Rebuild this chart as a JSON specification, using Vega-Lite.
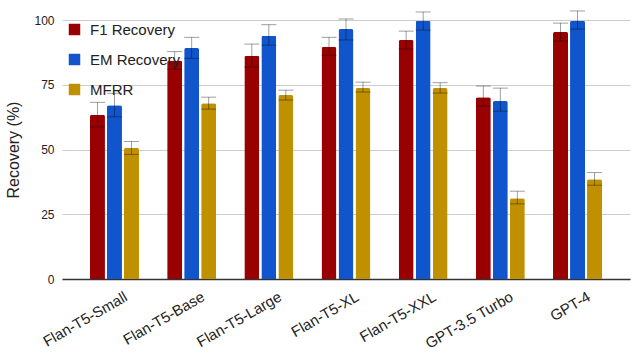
{
  "$schema": "https://vega.github.io/schema/vega-lite/v6.json",
  "autosize": {"type": "none"},
  "padding": {"left": 62, "top": 20, "right": 7, "bottom": 75},
  "width": 568,
  "height": 259,
  "background": "white",
  "config": {
    "view": {"stroke": null},
    "font": "Liberation Sans"
  },
  "data": {
    "values": [
      {"model": "Flan-T5-Small", "metric": "F1 Recovery", "value": 63.4, "lo": 58.7, "hi": 68.2},
      {"model": "Flan-T5-Small", "metric": "EM Recovery", "value": 67.1, "lo": 62.6, "hi": 71.7},
      {"model": "Flan-T5-Small", "metric": "MFRR", "value": 50.6, "lo": 48.1, "hi": 53.1},
      {"model": "Flan-T5-Base", "metric": "F1 Recovery", "value": 84.4, "lo": 81.0, "hi": 87.8},
      {"model": "Flan-T5-Base", "metric": "EM Recovery", "value": 89.2, "lo": 85.2, "hi": 93.3},
      {"model": "Flan-T5-Base", "metric": "MFRR", "value": 67.9, "lo": 65.6, "hi": 70.2},
      {"model": "Flan-T5-Large", "metric": "F1 Recovery", "value": 86.2, "lo": 81.8, "hi": 90.7},
      {"model": "Flan-T5-Large", "metric": "EM Recovery", "value": 93.9, "lo": 90.3, "hi": 98.2},
      {"model": "Flan-T5-Large", "metric": "MFRR", "value": 71.0, "lo": 69.1, "hi": 72.9},
      {"model": "Flan-T5-XL", "metric": "F1 Recovery", "value": 89.6, "lo": 86.4, "hi": 93.3},
      {"model": "Flan-T5-XL", "metric": "EM Recovery", "value": 96.5, "lo": 92.3, "hi": 100.4},
      {"model": "Flan-T5-XL", "metric": "MFRR", "value": 73.7, "lo": 72.2, "hi": 76.0},
      {"model": "Flan-T5-XXL", "metric": "F1 Recovery", "value": 92.3, "lo": 88.8, "hi": 95.7},
      {"model": "Flan-T5-XXL", "metric": "EM Recovery", "value": 99.7, "lo": 96.1, "hi": 103.1},
      {"model": "Flan-T5-XXL", "metric": "MFRR", "value": 73.7, "lo": 71.8, "hi": 75.8},
      {"model": "GPT-3.5 Turbo", "metric": "F1 Recovery", "value": 70.2, "lo": 66.8, "hi": 74.5},
      {"model": "GPT-3.5 Turbo", "metric": "EM Recovery", "value": 68.7, "lo": 64.8, "hi": 73.7},
      {"model": "GPT-3.5 Turbo", "metric": "MFRR", "value": 31.2, "lo": 29.0, "hi": 33.9},
      {"model": "GPT-4", "metric": "F1 Recovery", "value": 95.4, "lo": 91.9, "hi": 98.8},
      {"model": "GPT-4", "metric": "EM Recovery", "value": 99.7, "lo": 96.5, "hi": 103.5},
      {"model": "GPT-4", "metric": "MFRR", "value": 38.5, "lo": 36.2, "hi": 41.1}
    ]
  },
  "encoding": {
    "x": {
      "field": "model",
      "type": "nominal",
      "sort": null,
      "scale": {"paddingInner": 0.365, "paddingOuter": 0.3625},
      "axis": {
        "title": null,
        "labelAngle": -30,
        "labelAlign": "right",
        "labelBaseline": "top",
        "labelFontSize": 15,
        "labelColor": "#222222",
        "labelPadding": 10,
        "labelOffset": 8,
        "ticks": false,
        "domainColor": "#333333",
        "domainWidth": 1.5
      }
    },
    "xOffset": {
      "field": "metric",
      "type": "nominal",
      "sort": ["F1 Recovery", "EM Recovery", "MFRR"],
      "scale": {"paddingInner": 0.118, "paddingOuter": 0}
    }
  },
  "layer": [
    {
      "mark": {"type": "bar", "cornerRadiusTopLeft": 2, "cornerRadiusTopRight": 2},
      "encoding": {
        "y": {
          "field": "value",
          "type": "quantitative",
          "scale": {"domain": [0, 100], "nice": false},
          "axis": {
            "title": "Recovery (%)",
            "titleFontSize": 16,
            "titleFontWeight": "normal",
            "titleColor": "#222222",
            "titlePadding": 12,
            "values": [0, 25, 50, 75, 100],
            "labelFontSize": 12,
            "labelColor": "#222222",
            "labelPadding": 8,
            "ticks": false,
            "domain": false,
            "gridColor": "#cccccc",
            "gridWidth": 1
          }
        },
        "color": {
          "field": "metric",
          "type": "nominal",
          "sort": ["F1 Recovery", "EM Recovery", "MFRR"],
          "scale": {
            "domain": ["F1 Recovery", "EM Recovery", "MFRR"],
            "range": ["#990000", "#1155cc", "#bf9000"]
          },
          "legend": {
            "title": null,
            "orient": "none",
            "legendX": 5,
            "legendY": 2,
            "padding": 0,
            "symbolType": "square",
            "symbolSize": 132,
            "symbolStrokeWidth": 0,
            "symbolOpacity": 1,
            "labelFontSize": 15,
            "labelColor": "#222222",
            "labelOffset": 8,
            "rowPadding": 14
          }
        }
      }
    },
    {
      "mark": {"type": "rule", "color": "black", "opacity": 0.38, "strokeWidth": 1},
      "encoding": {
        "y": {"field": "lo", "type": "quantitative"},
        "y2": {"field": "hi"}
      }
    },
    {
      "mark": {"type": "tick", "color": "black", "opacity": 0.38, "thickness": 1, "size": 15},
      "encoding": {
        "y": {"field": "lo", "type": "quantitative"}
      }
    },
    {
      "mark": {"type": "tick", "color": "black", "opacity": 0.38, "thickness": 1, "size": 15},
      "encoding": {
        "y": {"field": "hi", "type": "quantitative"}
      }
    }
  ]
}
